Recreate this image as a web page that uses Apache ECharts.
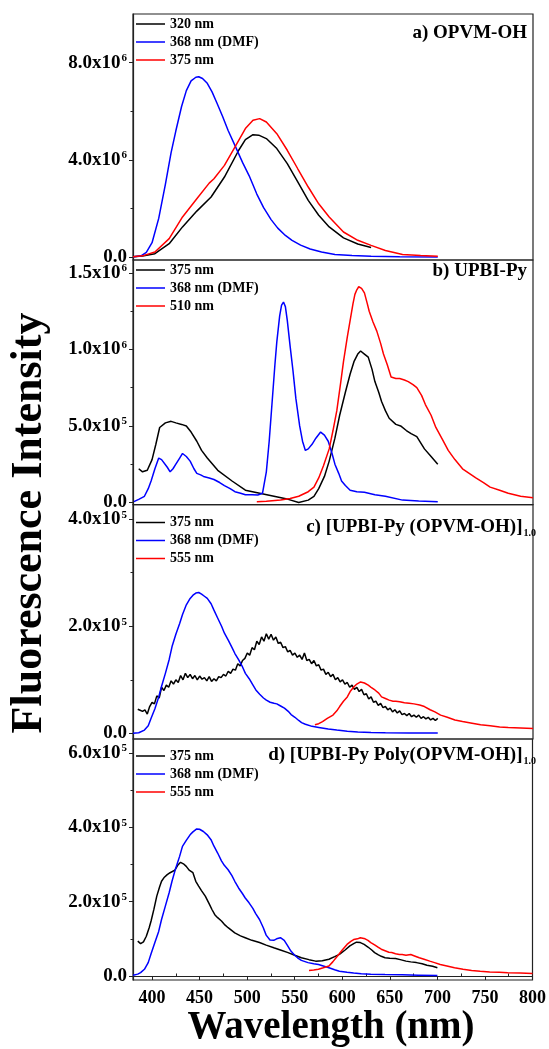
<!DOCTYPE html>
<html>
<head>
<meta charset="utf-8">
<script src="https://cdn.jsdelivr.net/npm/echarts@6/dist/echarts.min.js"></script>
<style>
  html, body { margin: 0; padding: 0; background: #fff; }
  #chart { width: 549px; height: 1049px; }
</style>
</head>
<body>
<div id="chart"></div>
<script>
// panel a) OPVM-OH, intensities in units of 1e6
var aWl320 = [380,390,403,418,432,447,462,476,491,498,506,512,520,531,542,553,564,575,586,601,616,630];
var aInt320 = [0.02,0.05,0.15,0.56,1.25,1.9,2.48,3.3,4.4,4.84,5.04,5.02,4.88,4.47,3.85,3.1,2.34,1.73,1.25,0.8,0.55,0.4];
var aWl368 = [380,388,394,400,407,414,420,425,431,436,441,446,449,453,458,463,468,474,480,487,495,502,510,517,525,532,540,547,556,566,578,592,610,630,660,700];
var aInt368 = [0.02,0.05,0.2,0.6,1.6,3.0,4.3,5.2,6.2,6.85,7.25,7.4,7.42,7.35,7.15,6.8,6.35,5.8,5.2,4.6,3.9,3.35,2.6,2.05,1.55,1.2,0.9,0.7,0.5,0.34,0.22,0.12,0.07,0.04,0.02,0.01];
var aWl375 = [380,390,403,418,432,447,460,465,476,487,498,506,513,520,531,542,553,564,575,586,601,616,630,645,663,682,700];
var aInt375 = [0.02,0.06,0.22,0.77,1.66,2.41,3.05,3.23,3.78,4.53,5.29,5.63,5.7,5.56,5.08,4.4,3.64,2.89,2.2,1.66,1.04,0.7,0.49,0.28,0.12,0.07,0.04];

// panel b) UPBI-Py, units of 1e6
var bWl375 = [386,390,395,400,404,408,414,420,425,431,436,441,447,452,458,469,484,498,513,528,543,554,564,570,575,581,586,592,597,603,608,612,616,619,623,627,631,634,638,641,645,649,656,661,667,672,678,686,693,700];
var bInt375 = [0.22,0.2,0.21,0.28,0.38,0.49,0.52,0.53,0.52,0.51,0.5,0.46,0.4,0.34,0.29,0.21,0.14,0.08,0.06,0.04,0.02,0.0,0.015,0.04,0.09,0.17,0.27,0.42,0.57,0.72,0.84,0.92,0.97,0.99,0.97,0.95,0.87,0.79,0.72,0.66,0.6,0.55,0.51,0.5,0.47,0.45,0.43,0.35,0.3,0.25];
var bWl368 = [381,386,392,396,399,403,407,410,412,416,419,422,425,429,432,436,440,444,447,451,454,460,465,471,476,482,487,493,498,505,511,516,520,523,526,529,531,534,536,538,540,542,545,548,551,555,558,561,564,568,572,577,581,585,589,592,596,599,603,608,615,623,634,645,663,680,700];
var bInt368 = [0.005,0.02,0.04,0.09,0.14,0.22,0.29,0.28,0.27,0.23,0.2,0.22,0.25,0.29,0.32,0.3,0.27,0.22,0.19,0.18,0.17,0.16,0.15,0.13,0.11,0.09,0.07,0.06,0.05,0.05,0.048,0.06,0.2,0.4,0.65,0.9,1.05,1.22,1.29,1.31,1.28,1.19,1.02,0.86,0.68,0.5,0.4,0.34,0.35,0.38,0.42,0.46,0.44,0.4,0.32,0.25,0.19,0.14,0.11,0.08,0.07,0.066,0.05,0.04,0.015,0.01,0.005];
var bWl510 = [510,520,535,545,554,564,570,575,580,586,590,594,598,601,605,608,611,613,615,617,620,623,626,628,632,636,640,643,647,651,656,660,665,669,674,678,683,687,693,698,705,711,718,726,733,740,748,755,765,774,787,800];
var bInt510 = [0.005,0.008,0.015,0.025,0.04,0.07,0.1,0.16,0.24,0.35,0.47,0.6,0.78,0.92,1.08,1.19,1.3,1.36,1.39,1.41,1.4,1.37,1.3,1.25,1.18,1.12,1.04,0.97,0.9,0.82,0.81,0.81,0.8,0.79,0.77,0.75,0.7,0.64,0.57,0.49,0.41,0.34,0.28,0.22,0.19,0.16,0.13,0.1,0.08,0.06,0.04,0.03];

// panel c) [UPBI-Py (OPVM-OH)]1.0, units of 1e5 (375 nm trace is noisy)
var cWl375 = [385,387.5,390,392.5,395,397.5,400,402.5,405,407.5,410,412.5,415,417.5,420,422.5,425,427.5,430,432.5,435,437.5,440,442.5,445,447.5,450,452.5,455,457.5,460,462.5,465,467.5,470,472.5,475,477.5,480,482.5,485,487.5,490,492.5,495,497.5,500,502.5,505,507.5,510,512.5,515,517.5,520,522.5,525,527.5,530,532.5,535,537.5,540,542.5,545,547.5,550,552.5,555,557.5,560,562.5,565,567.5,570,572.5,575,577.5,580,582.5,585,587.5,590,592.5,595,597.5,600,602.5,605,607.5,610,612.5,615,617.5,620,622.5,625,627.5,630,632.5,635,637.5,640,642.5,645,647.5,650,652.5,655,657.5,660,662.5,665,667.5,670,672.5,675,677.5,680,682.5,685,687.5,690,692.5,695,697.5,700];
var cInt375 = [0.45,0.43,0.41,0.44,0.36,0.5,0.58,0.55,0.7,0.66,0.86,0.8,0.9,0.86,0.98,0.92,1.0,0.95,1.08,1.0,1.12,1.04,1.1,1.02,1.08,1.0,1.07,1.01,1.04,0.98,1.06,0.97,1.02,0.98,1.06,1.04,1.1,1.07,1.16,1.12,1.2,1.18,1.3,1.26,1.36,1.4,1.5,1.46,1.6,1.56,1.72,1.66,1.8,1.72,1.86,1.76,1.85,1.74,1.8,1.68,1.7,1.6,1.62,1.52,1.55,1.46,1.5,1.42,1.46,1.38,1.5,1.36,1.38,1.3,1.36,1.26,1.28,1.18,1.2,1.1,1.14,1.06,1.1,1.0,1.04,0.96,1.0,0.92,0.95,0.86,0.9,0.82,0.86,0.78,0.82,0.72,0.74,0.64,0.68,0.58,0.6,0.52,0.56,0.48,0.5,0.44,0.47,0.4,0.44,0.38,0.42,0.35,0.37,0.33,0.37,0.31,0.34,0.3,0.34,0.28,0.31,0.27,0.3,0.25,0.28,0.24,0.28];
var cWl368 = [380,386,392,396,399,403,407,410,414,418,421,425,429,432,436,440,443,446,449,452,455,458,462,465,469,473,476,480,484,487,491,495,498,502,506,509,513,517,520,524,528,531,535,539,543,546,550,554,557,561,568,575,585,594,605,616,630,645,670,700];
var cInt368 = [0,0.01,0.06,0.14,0.28,0.46,0.68,0.88,1.12,1.38,1.62,1.85,2.05,2.22,2.4,2.52,2.58,2.62,2.63,2.6,2.56,2.52,2.42,2.3,2.15,2.0,1.87,1.74,1.6,1.49,1.37,1.24,1.12,1.02,0.9,0.81,0.73,0.66,0.62,0.58,0.56,0.55,0.51,0.47,0.41,0.35,0.3,0.24,0.2,0.17,0.13,0.11,0.08,0.06,0.04,0.025,0.015,0.01,0.005,0.005];
var cWl555 = [571,575,579,584,590,594,597,601,605,608,612,615,619,623,627,630,634,638,641,645,649,653,656,660,665,670,675,681,686,692,697,703,710,718,726,736,745,755,765,774,787,800];
var cInt555 = [0.16,0.18,0.22,0.28,0.34,0.42,0.5,0.6,0.68,0.78,0.87,0.92,0.96,0.94,0.9,0.86,0.81,0.75,0.68,0.65,0.62,0.6,0.6,0.59,0.57,0.56,0.55,0.53,0.5,0.44,0.4,0.34,0.3,0.25,0.22,0.19,0.16,0.14,0.12,0.11,0.1,0.09];

// panel d) [UPBI-Py Poly(OPVM-OH)]1.0, units of 1e5
var dWl375 = [385,388,391,394,397,399,402,405,408,410,413,416,419,421,424,427,430,433,436,439,443,446,449,452,456,460,463,466,469,473,476,480,487,493,498,505,513,520,528,535,543,550,557,565,572,579,586,592,597,603,608,612,615,619,623,627,631,634,638,641,645,650,656,661,667,672,678,684,689,695,700];
var dInt375 = [0.94,0.87,0.92,1.07,1.3,1.48,1.8,2.15,2.4,2.55,2.66,2.73,2.78,2.76,2.85,2.98,3.06,3.02,2.95,2.85,2.78,2.55,2.42,2.3,2.15,1.95,1.79,1.65,1.57,1.48,1.39,1.3,1.16,1.08,1.03,0.96,0.9,0.83,0.76,0.7,0.63,0.56,0.49,0.44,0.4,0.41,0.45,0.52,0.58,0.7,0.81,0.87,0.91,0.9,0.85,0.78,0.7,0.63,0.57,0.53,0.49,0.48,0.47,0.44,0.4,0.38,0.36,0.33,0.29,0.26,0.22];
var dWl368 = [380,385,388,392,396,399,403,407,410,414,418,421,425,429,432,436,440,443,447,450,454,458,462,465,469,473,476,480,484,487,491,495,498,502,506,509,513,517,520,524,528,531,535,539,542,546,550,553,557,564,570,575,580,586,592,597,605,612,620,630,645,663,680,700];
var dInt368 = [0.02,0.05,0.09,0.18,0.36,0.6,0.9,1.2,1.52,1.88,2.24,2.55,2.91,3.22,3.49,3.65,3.8,3.88,3.96,3.95,3.89,3.8,3.67,3.5,3.31,3.1,2.98,2.86,2.7,2.55,2.37,2.22,2.1,1.97,1.82,1.68,1.52,1.3,1.1,0.97,0.96,1.0,1.03,0.96,0.84,0.67,0.56,0.49,0.42,0.36,0.33,0.31,0.27,0.22,0.17,0.13,0.1,0.08,0.06,0.05,0.04,0.03,0.02,0.01];
var dWl555 = [565,570,575,580,586,590,595,600,605,609,612,616,619,621,624,627,630,634,638,641,645,649,652,656,660,663,667,672,676,681,686,692,697,703,710,718,727,736,745,755,765,774,787,800];
var dInt555 = [0.15,0.16,0.18,0.22,0.27,0.38,0.54,0.7,0.85,0.93,0.98,1.0,1.03,1.02,1.0,0.96,0.9,0.84,0.77,0.72,0.68,0.64,0.63,0.6,0.58,0.58,0.56,0.58,0.54,0.49,0.45,0.4,0.36,0.31,0.27,0.22,0.18,0.15,0.13,0.11,0.1,0.09,0.08,0.07];

// tick values
var xTicks = [400,450,500,550,600,650,700,750,800];
var xMinor = [425,475,525,575,625,675,725,775];
var aTicks = [0,4e6,8e6], aMinor = [2e6,6e6];
var bTicks = [0,5e5,1e6,1.5e6], bMinor = [2.5e5,7.5e5,1.25e6];
var cTicks = [0,2e5,4e5], cMinor = [1e5,3e5];
var dTicks = [0,2e5,4e5,6e5], dMinor = [1e5,3e5,5e5];

var FONT = '"Liberation Serif", "Times New Roman", serif';
var BLACK = '#000000', BLUE = '#0000ff', RED = '#ff0000';

var panels = [
  { top: 14, height: 246, min: -1.1e5, max: 1.0e7, ticks: aTicks, minor: aMinor, legendTop: 17,
    title: '{t|a) OPVM-OH}', titleTop: 22, titleRight: 22, key: 'a',
    series: [['320 nm', aWl320, aInt320, 1e6, BLACK], ['368 nm (DMF)', aWl368, aInt368, 1e6, BLUE], ['375 nm', aWl375, aInt375, 1e6, RED]] },
  { top: 260, height: 244.7, min: -1.5e4, max: 1.585e6, ticks: bTicks, minor: bMinor, legendTop: 263,
    title: '{t|b) UPBI-Py}', titleTop: 260, titleRight: 22, key: 'b',
    series: [['375 nm', bWl375, bInt375, 1e6, BLACK], ['368 nm (DMF)', bWl368, bInt368, 1e6, BLUE], ['510 nm', bWl510, bInt510, 1e6, RED]] },
  { top: 504.7, height: 234.3, min: -1.06e4, max: 4.27e5, ticks: cTicks, minor: cMinor, legendTop: 515.5,
    title: '{t|c) [UPBI-Py (OPVM-OH)]}{s|1.0}', titleTop: 516, titleRight: 13, key: 'c',
    series: [['375 nm', cWl375, cInt375, 1e5, BLACK], ['368 nm (DMF)', cWl368, cInt368, 1e5, BLUE], ['555 nm', cWl555, cInt555, 1e5, RED]] },
  { top: 739, height: 241, min: -1.08e4, max: 6.38e5, ticks: dTicks, minor: dMinor, legendTop: 749,
    title: '{t|d) [UPBI-Py Poly(OPVM-OH)]}{s|1.0}', titleTop: 744, titleRight: 13, key: 'd',
    series: [['375 nm', dWl375, dInt375, 1e5, BLACK], ['368 nm (DMF)', dWl368, dInt368, 1e5, BLUE], ['555 nm', dWl555, dInt555, 1e5, RED]] }
];

function pairs(wl, val, unit) {
  return wl.map(function (w, i) { return [w, val[i] * unit]; });
}

function tickLabel(v) {
  if (v === 0) return '{m|0.0}';
  var e = Math.floor(Math.log10(v) + 1e-9);
  var m = (v / Math.pow(10, e)).toFixed(1);
  return '{m|' + m + 'x10}{e|' + e + '}';
}

var labelRich = {
  m: { fontFamily: FONT, fontWeight: 'bold', fontSize: 19, color: '#000' },
  e: { fontFamily: FONT, fontWeight: 'bold', fontSize: 11, color: '#000', verticalAlign: 'top', padding: [0, 0, 9, 1] }
};

var grids = [], xAxes = [], yAxes = [], series = [], legends = [], titles = [];

panels.forEach(function (p, i) {
  grids.push({ left: 133, right: 16, top: p.top, height: p.height, show: true, borderColor: '#222', borderWidth: 1.2 });
  var last = i === panels.length - 1;
  xAxes.push({
    gridIndex: i, type: 'value', min: 380, max: 800,
    axisLine: { show: last, lineStyle: { color: '#222', width: 1.2 } },
    axisTick: { show: last, length: 4, customValues: xTicks, lineStyle: { color: '#222' } },
    axisLabel: { show: last, customValues: xTicks, margin: 9, fontFamily: FONT, fontWeight: 'bold', fontSize: 18, lineHeight: 18, color: '#000' },
    splitLine: { show: false }
  });
  yAxes.push({
    gridIndex: i, type: 'value', min: p.min, max: p.max,
    axisLine: { show: true, lineStyle: { color: '#222', width: 1.2 } },
    axisTick: { show: true, length: 4, customValues: p.ticks, lineStyle: { color: '#222' } },
    axisLabel: { customValues: p.ticks, margin: 6, formatter: tickLabel, rich: labelRich },
    splitLine: { show: false }
  });
  yAxes.push({
    gridIndex: i, type: 'value', min: p.min, max: p.max, position: 'left',
    axisLine: { show: false },
    axisTick: { show: true, length: 2.5, customValues: p.minor, lineStyle: { color: '#222' } },
    axisLabel: { show: false },
    splitLine: { show: false }
  });
  var names = [];
  p.series.forEach(function (s) {
    var nm = p.key + ':' + s[0];
    names.push(nm);
    series.push({
      name: nm, type: 'line', xAxisIndex: i, yAxisIndex: 2 * i,
      data: pairs(s[1], s[2], s[3]),
      showSymbol: false, symbol: 'none', animation: false,
      lineStyle: { color: s[4], width: 1.5 }, itemStyle: { color: s[4] }
    });
  });
  legends.push({
    data: names, orient: 'vertical', left: 136, top: p.legendTop,
    icon: 'rect', itemWidth: 29, itemHeight: 1.5, itemGap: 4, padding: 0,
    selectedMode: false,
    formatter: function (n) { return n.slice(2); },
    textStyle: { fontFamily: FONT, fontWeight: 'bold', fontSize: 14, lineHeight: 14, color: '#000' }
  });
  titles.push({
    text: p.title, right: p.titleRight, top: p.titleTop, padding: 0,
    textStyle: {
      rich: {
        t: { fontFamily: FONT, fontWeight: 'bold', fontSize: 19, lineHeight: 22, color: '#000' },
        s: { fontFamily: FONT, fontWeight: 'bold', fontSize: 10, color: '#000', verticalAlign: 'bottom', padding: [6, 0, 0, 1] }
      }
    }
  });
});

xAxes.push({
  gridIndex: 3, type: 'value', min: 380, max: 800,
  axisLine: { show: false },
  axisTick: { show: true, length: 2.5, customValues: xMinor, lineStyle: { color: '#222' } },
  axisLabel: { show: false },
  splitLine: { show: false }
});

var chart = echarts.init(document.getElementById('chart'), null, { renderer: 'canvas' });
chart.setOption({
  backgroundColor: '#fff',
  animation: false,
  title: titles,
  legend: legends,
  grid: grids,
  xAxis: xAxes,
  yAxis: yAxes,
  series: series,
  graphic: [{
    type: 'text', x: 30, y: 523, rotation: Math.PI / 2,
    style: {
      text: 'Fluorescence Intensity', fill: '#000',
      font: 'bold 44px "Liberation Serif", "Times New Roman", serif',
      align: 'center', verticalAlign: 'middle'
    }
  }, {
    type: 'text', x: 331, y: 1028,
    style: {
      text: 'Wavelength (nm)', fill: '#000',
      font: 'bold 39px "Liberation Serif", "Times New Roman", serif',
      align: 'center', verticalAlign: 'middle'
    }
  }]
});
</script>
</body>
</html>
